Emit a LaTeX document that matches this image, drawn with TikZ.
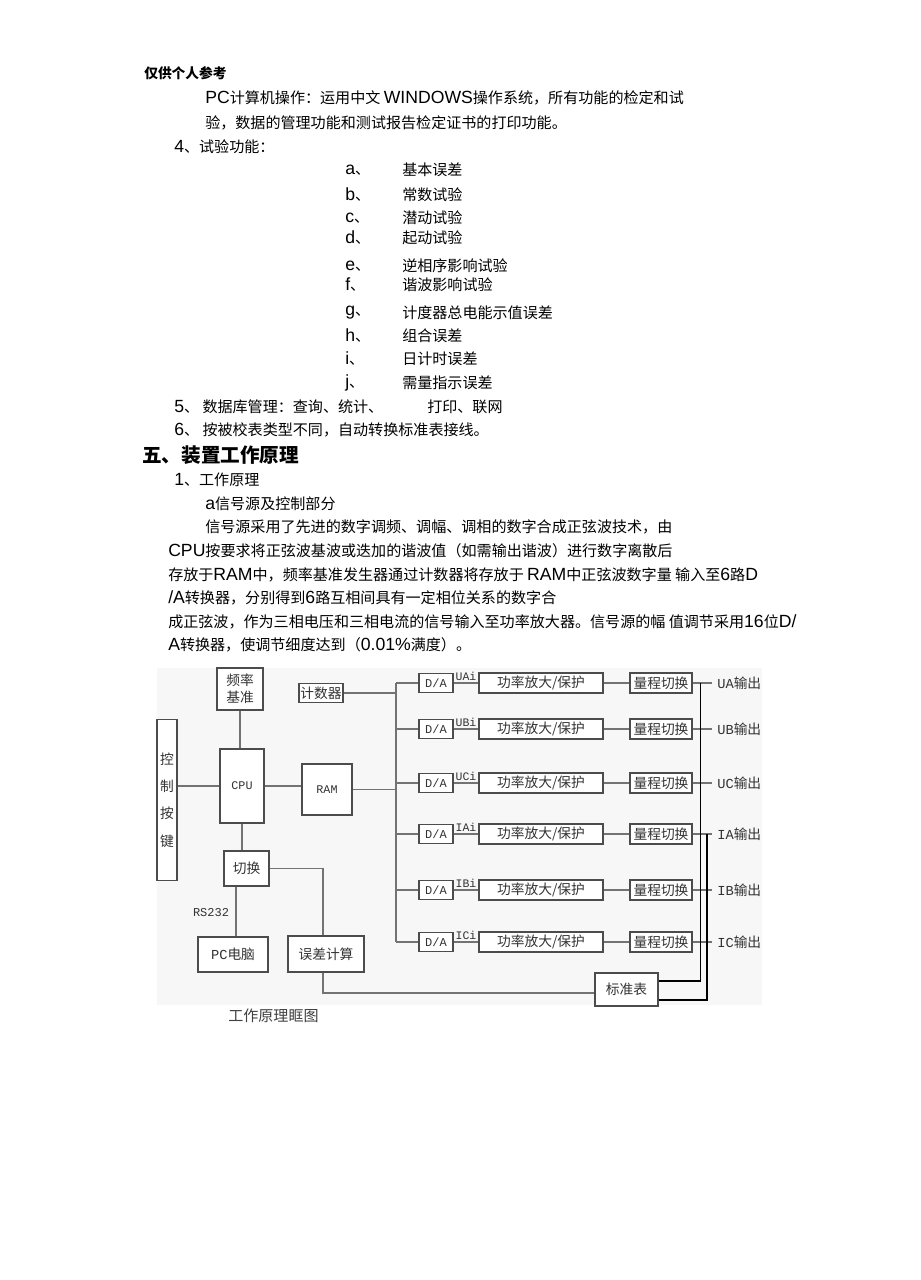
\documentclass[tikz,border=0pt]{standalone}
\usepackage{fontspec}
\setmainfont{Noto Sans CJK SC}
\newfontfamily\latf{Liberation Sans}[Scale=1.17]
\newfontfamily\monof{Liberation Mono}
\newcommand\bodyf{\fontsize{11.3}{13}\selectfont}
\newcommand\diagf{\fontsize{10.3}{12}\selectfont}
\tikzset{
  txt/.style={anchor=west, inner sep=0pt, font=\bodyf},
  box/.style={draw=black!70, line width=0.9pt, fill=white, inner sep=0pt, font=\diagf, text=black!80},
  bx/.style 2 args={minimum width=#1*0.75pt, minimum height=#2*0.75pt},
  wire/.style={draw=black!55, line width=0.9pt},
  bus/.style={draw=black, line width=1.4pt},
  lbl/.style={inner sep=0pt, font=\monof\fontsize{8.6}{9}\selectfont, text=black!80},
  dtxt/.style={inner sep=0pt, font=\diagf, text=black!80},
}
\begin{document}
\begin{tikzpicture}[x=0.75pt,y=-0.75pt]
\useasboundingbox (0,0) rectangle (920,1280);
\fill[white] (0,0) rectangle (920,1280);

% ---------- text ----------
\node[txt, font=\fontsize{10.3}{12}\selectfont\bfseries] (t0) at (144,73) {仅供个人参考};
\node[txt] (t1) at (205,98) {{\latf PC}计算机操作：运用中文 {\latf WINDOWS}操作系统，所有功能的检定和试};
\node[txt] (t2) at (205,123) {验，数据的管理功能和测试报告检定证书的打印功能。};
\node[txt] (t3) at (174,147) {{\latf 4}、试验功能：};
\foreach \k/\l/\y/\s in {ia/a/170/基本误差, ib/b/195/常数试验, ic/c/218/潜动试验, id/d/238/起动试验, ie/e/266/逆相序影响试验, if/f/285/谐波影响试验, ig/g/313/计度器总电能示值误差, ih/h/336/组合误差, ii/i/359/日计时误差, ij/j/383/需量指示误差}{
  \node[txt] (\k l) at (345,\y) {{\latf \l}、};
  \node[txt] (\k t) at (402,\y) {\s};
}
\node[txt] (t5a) at (174,407) {{\latf 5}、 数据库管理：查询、统计、};
\node[txt] (t5b) at (427,407) {打印、联网};
\node[txt] (t6) at (174,430) {{\latf 6}、 按被校表类型不同，自动转换标准表接线。};
\node[txt, font=\fontsize{14.7}{17}\selectfont\bfseries] (h5) at (142,455) {五、装置工作原理};
\node[txt] (s1t) at (174,480) {{\latf 1}、工作原理};
\node[txt] (sat) at (205,504) {{\latf a}信号源及控制部分};
\node[txt] (p1) at (205,527) {信号源采用了先进的数字调频、调幅、调相的数字合成正弦波技术，由};
\node[txt] (p2) at (168,551) {{\latf CPU}按要求将正弦波基波或迭加的谐波值（如需输出谐波）进行数字离散后};
\node[txt] (p3) at (168,575) {存放于{\latf RAM}中，频率基准发生器通过计数器将存放于 {\latf RAM}中正弦波数字量 输入至{\latf 6}路{\latf D}};
\node[txt] (p4) at (168,598) {{\latf /A}转换器，分别得到{\latf 6}路互相间具有一定相位关系的数字合};
\node[txt] (p5) at (168,622) {成正弦波，作为三相电压和三相电流的信号输入至功率放大器。信号源的幅 值调节采用{\latf 16}位{\latf D/}};
\node[txt] (p6) at (168,645) {{\latf A}转换器，使调节细度达到（{\latf 0.01\%}满度）。};

% ---------- diagram ----------
\fill[black!3] (157,668) rectangle (762,1005);

\node[box, bx={46}{42}, align=center, font=\fontsize{10.3}{12.5}\selectfont] (fr) at (240,689) {频率\\基准};
\node[box, bx={44}{19}] (cnt) at (321,693) {计数器};
\node[box, bx={20}{161}, align=center, font=\fontsize{10.3}{20.5}\selectfont] (ctl) at (167,800) {控\\制\\按\\键};
\node[box, bx={44}{74}, font=\monof\fontsize{8.8}{10}\selectfont] (cpu) at (242,786) {CPU};
\node[box, bx={50}{51}, font=\monof\fontsize{8.8}{10}\selectfont] (ram) at (327,789.5) {RAM};
\node[box, bx={45}{35}] (sw) at (246.5,868.5) {切换};
\node[box, bx={70}{35}] (pc) at (233,954.5) {{\monof PC}电脑};
\node[box, bx={76}{36}] (err) at (326,954) {误差计算};
\node[box, bx={63}{33}] (std) at (626.5,989.5) {标准表};
\node[dtxt, font=\monof\fontsize{9}{10}\selectfont] (rs) at (211,913) {RS232};

\coordinate (busL) at (396,683);
\coordinate (bR1) at (700.5,683);
\coordinate (bR2) at (707,834);
\coordinate (xl) at (236,0);
\coordinate (xe) at (323,0);

\foreach \n/\y/\lab/\out in {a/683/UAi/UA, b/729/UBi/UB, c/783/UCi/UC, d/834/IAi/IA, e/890/IBi/IB, f/942/ICi/IC}{
  \node[box, bx={34}{19}, font=\monof\fontsize{9}{10}\selectfont] (da\n) at (436,\y) {D/A};
  \node[box, bx={124}{20}] (amp\n) at (541,\y) {功率放大/保护};
  \node[box, bx={62}{20}] (rng\n) at (661,\y) {量程切换};
  \node[lbl] (lb\n) at (466,\y-7) {\lab};
  \coordinate (tk\n) at (712,\y);
  \node[dtxt, anchor=west] (out\n) at (717,\y) {{\monof \out}输出};
  \draw[wire] (busL |- da\n) -- (da\n.west);
  \draw[wire] (da\n.east) -- (amp\n.west);
  \draw[wire] (amp\n.east) -- (rng\n.west);
  \draw[wire] (rng\n.east) -- (tk\n);
}

\draw[wire] (busL |- daa) -- (busL |- daf);
\draw[wire] (cnt.east) -- (cnt.east -| busL);
\draw[wire] (ram.east) -- (ram.east -| busL);
\draw[wire] (fr.south) -- (fr.south |- cpu.north);
\draw[wire] (cpu.south) -- (cpu.south |- sw.north);
\draw[wire] (ctl.east |- cpu.west) -- (cpu.west);
\draw[wire] (cpu.east) -- (cpu.east -| ram.west);
\draw[wire] (sw.east) -| (xe |- err.north);
\draw[wire] (xl |- sw.south) -- (xl |- pc.north);
\draw[wire] (err.south -| xe) |- ([yshift=-2.6pt]std.west);

\coordinate (s1) at ([yshift=6.4pt]std.east);
\coordinate (s2) at ([yshift=-7.9pt]std.east);
\draw[bus] (bR1 |- rnga) -- (bR1 |- s1) -- (s1);
\draw[bus] (bR2 |- rngd) -- (bR2 |- s2) -- (s2);

\node[txt, font=\fontsize{11.3}{13}\selectfont, text=black!75] (cap) at (228,1016) {工作原理眶图};
\end{tikzpicture}
\end{document}
